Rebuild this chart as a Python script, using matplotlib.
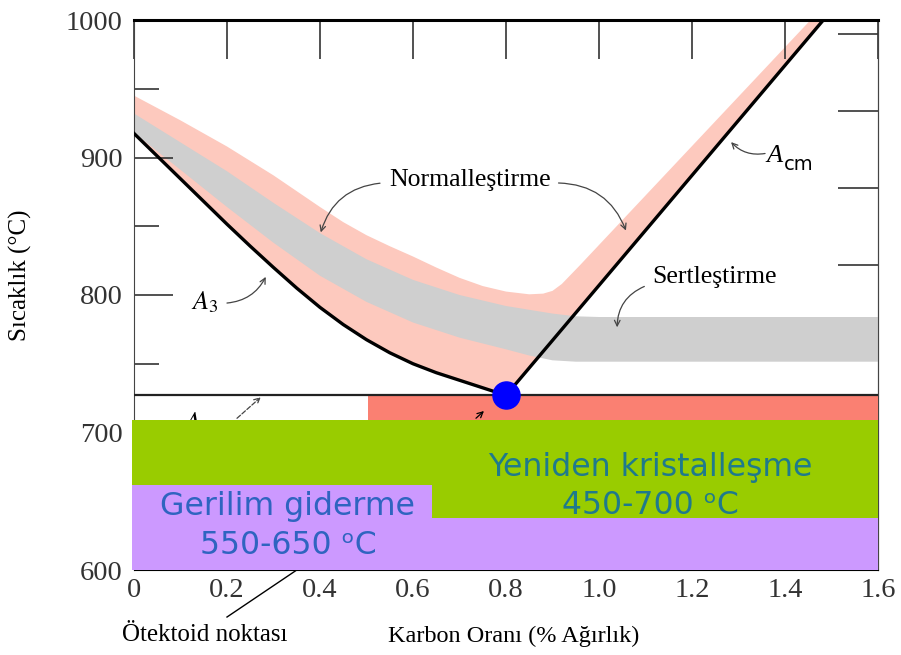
import matplotlib
matplotlib.use("Agg")
import matplotlib.pyplot as plt

# --- veriler ---
a3_x = [0, 0.05, 0.1, 0.15, 0.2, 0.25, 0.3, 0.35, 0.4, 0.45, 0.5, 0.55, 0.6, 0.65, 0.7, 0.75, 0.8]
a3_t = [917.5, 901, 884.5, 868, 851.5, 835.5, 820, 805, 791, 778.5, 767.5, 758, 750, 743.5, 738, 732.5, 727]

acm_x = [0.8, 1.52]
acm_t = [727, 1015]

norm_x = [0, 0.1, 0.2, 0.3, 0.4, 0.45, 0.5, 0.55, 0.6, 0.65, 0.7, 0.75, 0.8, 0.85, 0.88,
          0.9, 0.92, 0.94, 0.96, 1.455, 1.49]
norm_t = [945, 927, 908, 887, 864, 853, 843.5, 835.5, 828, 820, 812.5, 806.5, 802.5, 800.5, 801,
          803, 808, 815, 822, 1000, 1012]

grey_up_x = [0, 0.1, 0.2, 0.3, 0.4, 0.5, 0.6, 0.7, 0.8, 0.9, 0.95, 1.0, 1.6]
grey_up_t = [932, 911, 890, 867, 845, 826, 811, 800, 792, 786.5, 784.5, 784, 784]
grey_lo_x = [0, 0.1, 0.2, 0.3, 0.4, 0.5, 0.6, 0.7, 0.8, 0.85, 0.9, 0.95, 1.6]
grey_lo_t = [918, 891, 864, 838, 814, 795, 780, 769, 760.5, 756, 752.5, 751.5, 751.5]

otektoid = (0.8, 727)

kirmizi_x = [0.503, 1.6]
kirmizi_t = [709, 727]
yesil_x = [-0.005, 1.6]
yesil_t = [637.8, 709]
mor_x = [-0.005, 0.641, 1.6]
mor_ust = [661.8, 637.8, 637.8]
mor_alt = 600

sag_tikler = [710, 767, 822, 878, 934, 990]

plt.rcParams['font.family'] = ['Liberation Serif', 'DejaVu Serif']

fig = plt.figure(figsize=(9.01, 6.55), dpi=100)
ax = fig.add_axes([134/901, 85/655, 744/901, 550/655])
ax.set_xlim(0, 1.6)
ax.set_ylim(600, 1000)

# normallestirme bandi (pembe) ve gri bant
pembe_x = norm_x + acm_x[::-1] + a3_x[::-1][1:]
pembe_t = norm_t + acm_t[::-1] + a3_t[::-1][1:]
ax.fill(pembe_x, pembe_t, color='#FDC9BE', lw=0, zorder=1)
ax.fill(grey_up_x + grey_lo_x[::-1], grey_up_t + grey_lo_t[::-1], color='#CFCFCF', lw=0, zorder=1.5)

ax.plot(a3_x, a3_t, color='black', lw=2.4, zorder=3, solid_joinstyle='round')
ax.plot(acm_x, acm_t, color='black', lw=2.4, zorder=3)

# etiketler ve oklar
ok = dict(arrowstyle='->', color='#444444', lw=0.9)
ax.text(0.7226, 883.6, 'Normalleştirme', ha='center', va='center', fontsize=18.5, zorder=3)
ax.annotate('', xy=(0.40, 843.6), xytext=(0.535, 881.5),
            arrowprops=dict(ok, connectionstyle='arc3,rad=0.35'), zorder=3)
ax.annotate('', xy=(1.06, 845), xytext=(0.907, 881.5),
            arrowprops=dict(ok, connectionstyle='arc3,rad=-0.35'), zorder=3)
ax.text(1.248, 813, 'Sertleştirme', ha='center', va='center', fontsize=18.5, zorder=3)
ax.annotate('', xy=(1.039, 774.5), xytext=(1.103, 807),
            arrowprops=dict(ok, connectionstyle='arc3,rad=0.35'), zorder=3)
ax.text(1.378, 901, 'A', ha='center', va='center', fontsize=19, style='italic', zorder=3)
ax.text(1.397, 895, 'cm', ha='left', va='center', fontsize=14, family=['DejaVu Sans'], zorder=3)
ax.annotate('', xy=(1.28, 912.7), xytext=(1.363, 903.3),
            arrowprops=dict(ok, connectionstyle='arc3,rad=-0.3'), zorder=3)
ax.text(0.153, 795, r'$A_3$', ha='center', va='center', fontsize=19,
        math_fontfamily='stix', zorder=3)
ax.annotate('', xy=(0.286, 815), xytext=(0.194, 794),
            arrowprops=dict(ok, connectionstyle='arc3,rad=0.3'), zorder=3)
ax.text(0.135, 716.4, r'$A_1$', ha='center', va='top', fontsize=19,
        math_fontfamily='stix', zorder=3)
ax.annotate('', xy=(0.277, 727), xytext=(0.217, 709),
            arrowprops=dict(ok, linestyle='--'), zorder=3, annotation_clip=False)

# renkli bantlar
ax.fill_between(kirmizi_x, kirmizi_t[0], kirmizi_t[1], color='#FA8072', lw=0, zorder=4)
ax.axhline(727, color='#222222', lw=1.6, zorder=4.5)
ax.annotate('', xy=(0.757, 717), xytext=(0.731, 709),
            arrowprops=dict(arrowstyle='->', color='black', lw=0.9), zorder=4.6)
ax.fill_between(yesil_x, yesil_t[0], yesil_t[1], color='#99CC00', lw=0, zorder=5, clip_on=False)
ax.fill_between(mor_x, mor_alt, mor_ust, step='post', color='#CC99FF', lw=0, zorder=6, clip_on=False)

ax.plot(*otektoid, 'o', color='#0000FF', markersize=19.5, zorder=7)

ax.text(1.11, 661, 'Yeniden kristalleşme\n450-700 ᵒC', ha='center', va='center',
        fontsize=22.7, color='#1F7A8C', family=['DejaVu Sans'], linespacing=1.3, zorder=8)
ax.text(0.331, 632, 'Gerilim giderme\n550-650 ᵒC', ha='center', va='center',
        fontsize=22.7, color='#2F64C0', family=['DejaVu Sans'], linespacing=1.3, zorder=8)

# Otektoid noktasi etiketi
ax.text(0.153, 552.7, 'Ötektoid noktası', ha='center', va='center', fontsize=18, clip_on=False)
ax.plot([0.2, 0.35], [565.8, 600], color='black', lw=1.0, zorder=5.5, clip_on=False)

# eksenler
ax.set_xticks([0, 0.2, 0.4, 0.6, 0.8, 1.0, 1.2, 1.4, 1.6])
ax.set_xticklabels(['0', '0.2', '0.4', '0.6', '0.8', '1.0', '1.2', '1.4', '1.6'])
ax.set_yticks([600, 700, 800, 900, 1000])
ax.set_yticks([650, 750, 850, 950], minor=True)
ax.tick_params(axis='x', which='both', direction='in', bottom=False, top=True,
               length=28, width=1.2, color='#333333', labelsize=20.5, labelcolor='#333333', pad=6)
ax.tick_params(axis='y', which='major', direction='in', left=True, right=False,
               length=28, width=1.2, color='#333333', labelsize=20.5, labelcolor='#333333', pad=8)
ax.tick_params(axis='y', which='minor', direction='in', left=True, right=False,
               length=18, width=1.2, color='#333333')
sag = ax.secondary_yaxis('right')
sag.set_yticks(sag_tikler)
sag.tick_params(direction='in', length=29, width=1.2, color='#333333', labelright=False)
sag.spines['right'].set_color('#444444')

ax.spines['top'].set_linewidth(2.2)
ax.spines['left'].set_color('#444444')
ax.spines['right'].set_color('#444444')

ax.set_xlabel('Karbon Oranı (% Ağırlık)', fontsize=17.5)
ax.xaxis.set_label_coords(0.511, -0.102)
ax.set_ylabel('Sıcaklık (°C)', fontsize=18)
ax.yaxis.set_label_coords(-0.137, 0.536)

fig.savefig('out.png', dpi=100)
